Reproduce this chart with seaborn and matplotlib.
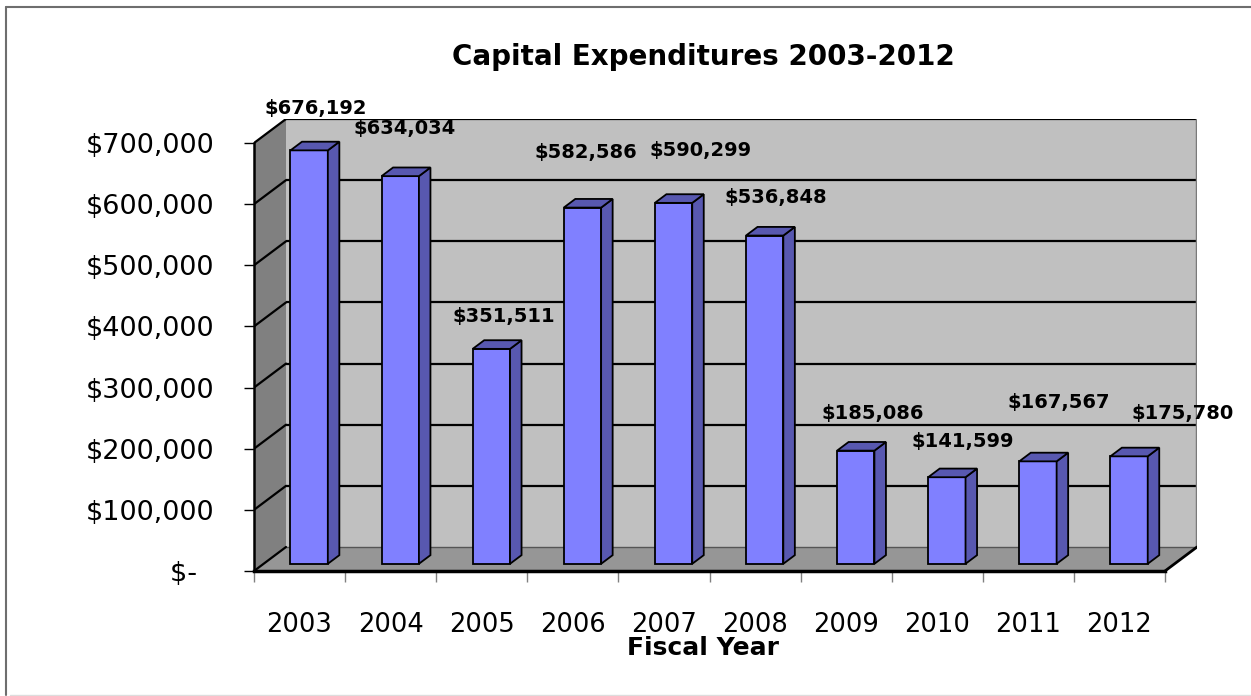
import numpy as np
import matplotlib
matplotlib.use("Agg")
import matplotlib.pyplot as plt
from matplotlib.patches import Polygon, Rectangle
from matplotlib.lines import Line2D
import seaborn as sns

# Data
years = ["2003", "2004", "2005", "2006", "2007", "2008", "2009", "2010", "2011", "2012"]
spending = [676192, 634034, 351511, 582586, 590299, 536848, 185086, 141599, 167567, 175780]
y_ticks = [0, 100000, 200000, 300000, 400000, 500000, 600000, 700000]
y_tick_labels = ["$-  ", "$100,000", "$200,000", "$300,000", "$400,000",
                 "$500,000", "$600,000", "$700,000"]

# Label nudges (pixels) relative to each bar's front top
label_dx = [7, 4, 12, 3, 27, 11, 17, 16, 21, 54]
label_dy = [42, 48, 32, 55, 52, 38, 37, 36, 59, 43]

sns.set_style("white")
plt.rcParams["font.family"] = ["DejaVu Sans"]
plt.rcParams["text.color"] = "black"
plt.rcParams["axes.labelcolor"] = "black"
plt.rcParams["xtick.color"] = "black"
plt.rcParams["ytick.color"] = "black"
plt.rcParams["xtick.labelcolor"] = "black"
plt.rcParams["ytick.labelcolor"] = "black"

W, H, DPI = 1251, 696, 100
fig = plt.figure(figsize=(W / DPI, H / DPI), dpi=DPI)
fig.patch.set_facecolor("white")

# plot area in pixels (front-left corner at x=254, floor front at y=571)
ax_left, ax_right, ax_bottom, ax_top = 254, 1197, 571, 119
ax = fig.add_axes([ax_left / W, (H - ax_bottom) / H,
                   (ax_right - ax_left) / W, (ax_bottom - ax_top) / H])
ax.set_facecolor("none")

n = len(years)
ymax = 700000
DEPTH_X = 32 / 91.1              # depth offset in category units
DEPTH_Y = ymax * 24 / 428        # depth offset in value units
x0, x1 = -0.5, n - 0.5

front_col = "#8080FF"
shade_col = "#5858B0"
wall_back = "#C0C0C0"
wall_side = "#808080"
floor_col = "#969696"

# walls and floor
ax.add_patch(Polygon([(x0, 0), (x0, ymax), (x0 + DEPTH_X, ymax + DEPTH_Y),
                      (x0 + DEPTH_X, DEPTH_Y)], closed=True,
                     facecolor=wall_side, edgecolor="none", zorder=0))
ax.add_patch(Rectangle((x0 + DEPTH_X, DEPTH_Y), n, ymax,
                       facecolor=wall_back, edgecolor="none", zorder=0))
ax.add_patch(Polygon([(x0, 0), (x1, 0), (x1 + DEPTH_X, DEPTH_Y),
                      (x0 + DEPTH_X, DEPTH_Y)], closed=True,
                     facecolor=floor_col, edgecolor="none", zorder=0))

# gridlines on back and side walls
for v in y_ticks:
    lw = 1.6 if v > 0 else 1.0
    col = "black" if v > 0 else "#555555"
    ax.plot([x0 + DEPTH_X, x1 + DEPTH_X], [v + DEPTH_Y, v + DEPTH_Y],
            color=col, lw=lw, zorder=1, solid_capstyle="butt")
    ax.plot([x0, x0 + DEPTH_X], [v, v + DEPTH_Y], color="black", lw=1.6, zorder=1)

# back wall right edge and floor right edge
ax.plot([x1 + DEPTH_X, x1 + DEPTH_X], [DEPTH_Y, ymax + DEPTH_Y],
        color="#7a7a7a", lw=2.5, zorder=1)
ax.plot([x1, x1 + DEPTH_X], [0, DEPTH_Y], color="black", lw=2.0, zorder=2)

# bars
bar_w = 0.41
sns.barplot(x=years, y=spending, color=front_col, saturation=1, width=bar_w,
            edgecolor="black", linewidth=1.3, ax=ax, zorder=3)

f_front = 0.3    # bar front position within the depth
f_depth = 0.36   # bar depth as a fraction of the full depth
ddx, ddy = f_depth * DEPTH_X, f_depth * DEPTH_Y

bars = [p for p in ax.patches if isinstance(p, Rectangle) and p.get_facecolor()[2] > 0.9
        and p.get_width() < 1]
for i, p in enumerate(bars):
    p.set_x(p.get_x() + f_front * DEPTH_X)
    p.set_y(f_front * DEPTH_Y)
    bx0 = p.get_x()
    bx1 = bx0 + p.get_width()
    by0 = p.get_y()
    by1 = by0 + p.get_height()
    ax.add_patch(Polygon([(bx1, by0), (bx1 + ddx, by0 + ddy), (bx1 + ddx, by1 + ddy),
                          (bx1, by1)], closed=True, facecolor=shade_col,
                         edgecolor="black", lw=1.3, zorder=3))
    ax.add_patch(Polygon([(bx0, by1), (bx1, by1), (bx1 + ddx, by1 + ddy),
                          (bx0 + ddx, by1 + ddy)], closed=True, facecolor=shade_col,
                         edgecolor="black", lw=1.3, zorder=3))
    ax.annotate(f"${spending[i]:,}", xy=(bx0 + p.get_width() / 2, by1),
                xytext=(label_dx[i], label_dy[i]), textcoords="offset pixels",
                ha="center", va="center", fontsize=14, fontweight="bold",
                color="black", zorder=6, annotation_clip=False)

ax.set_xlim(x0, x1 + DEPTH_X)
ax.set_ylim(0, ymax + DEPTH_Y)

# axes spines
for s in ["top", "right"]:
    ax.spines[s].set_visible(False)
ax.spines["left"].set_bounds(0, ymax)
ax.spines["left"].set_linewidth(1.8)
ax.spines["left"].set_color("black")
ax.spines["bottom"].set_bounds(x0, x1)
ax.spines["bottom"].set_linewidth(2.5)
ax.spines["bottom"].set_color("black")

# ticks
ax.set_yticks(y_ticks)
ax.set_yticklabels(y_tick_labels)
ax.tick_params(axis="y", direction="out", length=7.2, width=1, color="black",
               pad=21.6, labelsize=19.5, labelcolor="black", left=True)
ax.set_xticks(range(n))
ax.set_xticklabels(years)
ax.tick_params(axis="x", which="major", length=0, pad=29.5, labelsize=18.5,
               labelcolor="black")
ax.set_xticks(np.arange(x0, x1 + 0.01, 1.0), minor=True)
ax.tick_params(axis="x", which="minor", direction="out", length=8, width=1,
               color="#808080", bottom=True)

ax.set_xlabel("Fiscal Year", fontsize=18, fontweight="bold", color="black")
ax.xaxis.set_label_coords((703 - ax_left) / (ax_right - ax_left),
                          -(636 - ax_bottom) / (ax_bottom - ax_top))
ax.set_ylabel("")

fig.text(703 / W, 1 - 57 / H, "Capital Expenditures 2003-2012", ha="center",
         va="center", fontsize=20, fontweight="bold", color="black")

# outer frame
fig.add_artist(Line2D([6 / W, 1.0], [1 - 7 / H, 1 - 7 / H], color="#6e6e6e", lw=1.5,
                      transform=fig.transFigure))
fig.add_artist(Line2D([6 / W, 6 / W], [1 - 7 / H, 1 - 695 / H], color="#6e6e6e", lw=1.5,
                      transform=fig.transFigure))
fig.add_artist(Line2D([10 / W, 1.0], [1 - 695 / H, 1 - 695 / H], color="#dddddd", lw=1,
                      transform=fig.transFigure))

fig.savefig("out.png", dpi=DPI)
